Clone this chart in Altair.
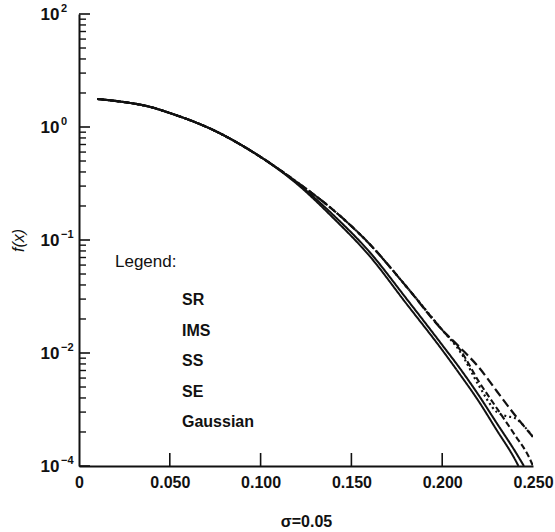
import altair as alt
import pandas as pd

# ---------------- data ----------------
series_names = ["SR", "IMS", "SS", "SE", "Gaussian"]

sr_x = [0.01, 0.025, 0.0375, 0.05, 0.075, 0.10, 0.12, 0.14, 0.16, 0.18, 0.20, 0.21, 0.22, 0.23, 0.24, 0.25]
sr_f = [1.77, 1.66, 1.53, 1.33, 0.922, 0.543, 0.3256, 0.1843, 0.0922, 0.0392, 0.0160, 0.0111, 0.00752, 0.00461, 0.00283, 0.00181]

ims_x = [0.01, 0.025, 0.0375, 0.05, 0.075, 0.10, 0.12, 0.14, 0.16, 0.18, 0.20, 0.21, 0.22, 0.23, 0.235, 0.24, 0.245, 0.25]
ims_f = [1.77, 1.66, 1.53, 1.33, 0.922, 0.543, 0.3256, 0.1843, 0.0922, 0.0392, 0.0160, 0.0102, 0.00521, 0.00301, 0.00277, 0.00266, 0.00226, 0.00181]

ss_x = [0.01, 0.025, 0.0375, 0.05, 0.075, 0.10, 0.12, 0.14, 0.16, 0.18, 0.20, 0.21, 0.22, 0.23, 0.24, 0.248, 0.25]
ss_f = [1.77, 1.66, 1.53, 1.33, 0.922, 0.543, 0.3256, 0.1843, 0.0922, 0.0392, 0.0160, 0.0106, 0.00565, 0.00326, 0.00188, 0.00118, 0.00100]

se_x = [0.01, 0.025, 0.0375, 0.05, 0.075, 0.10, 0.12, 0.14, 0.16, 0.18, 0.20, 0.21, 0.22, 0.23, 0.24, 0.245]
se_f = [1.77, 1.66, 1.53, 1.33, 0.922, 0.543, 0.3195, 0.1665, 0.0783, 0.0307, 0.01177, 0.00722, 0.00425, 0.00240, 0.00136, 0.00100]

gauss_x = [0.01, 0.025, 0.0375, 0.05, 0.075, 0.10, 0.12, 0.14, 0.16, 0.18, 0.20, 0.21, 0.22, 0.23, 0.24, 0.242]
gauss_f = [1.77, 1.66, 1.53, 1.33, 0.922, 0.543, 0.3137, 0.1566, 0.0722, 0.0277, 0.01063, 0.00639, 0.00376, 0.00208, 0.00115, 0.00100]

x_tick_values = [0, 0.05, 0.10, 0.15, 0.20, 0.25]
x_tick_labels = ["0", "0.050", "0.100", "0.150", "0.200", "0.250"]
x_inner_ticks = [0.05, 0.10, 0.15, 0.20]

y_tick_values = [10, 1, 0.1, 0.01, 0.001]
y_tick_base = "10"
y_tick_exponents = ["2", "0", "\u22121", "\u22122", "\u22124"]
y_minor_ticks = [k * d for d in (0.001, 0.01, 0.1, 1) for k in range(2, 10)]

legend_title = "Legend:"
legend_items = ["SR", "IMS", "SS", "SE", "Gaussian"]

# ---------------- build table ----------------
rows = []
for name, xs, fs in [("SR", sr_x, sr_f), ("IMS", ims_x, ims_f), ("SS", ss_x, ss_f),
                     ("SE", se_x, se_f), ("Gaussian", gauss_x, gauss_f)]:
    for xv, fv in zip(xs, fs):
        rows.append({"series": name, "x": xv, "f": fv})
df = pd.DataFrame(rows)

W, H = 454, 452
FONT = "Liberation Sans"
INK = "#111111"

xscale = alt.Scale(domain=[0, 0.25], nice=False, zero=False)
yscale = alt.Scale(type="log", domain=[0.001, 10], nice=False)


def label_expr(values, labels, tol):
    expr = "''"
    for v, l in zip(values, labels):
        t = tol * abs(v) if v != 0 else tol
        expr = f"abs(datum.value - {v}) < {t} ? '{l}' : " + expr
    return expr


xax = alt.Axis(title="σ=0.05", values=x_tick_values, labelExpr=label_expr(x_tick_values, x_tick_labels, 1e-4),
               ticks=False, grid=False, domainWidth=2, domainColor=INK, labelFont=FONT,
               labelFontSize=16, labelFontWeight="bold", labelColor=INK,
               labelPadding=8, labelFlush=False, titleFont=FONT, titleFontSize=16,
               titleFontWeight="bold", titleColor=INK, titlePadding=23)
yax = alt.Axis(title="f(x)", values=y_tick_values, labelExpr=f"'{y_tick_base}'",
               ticks=False, grid=False, domainWidth=2, domainColor=INK, labelFont=FONT,
               labelFontSize=17, labelFontWeight="bold", labelColor=INK,
               labelPadding=20, titleFont=FONT, titleFontSize=16,
               titleFontStyle="italic", titleFontWeight="normal", titleColor=INK,
               titleX=-53, titleY=H / 2)

lines = alt.Chart(df).mark_line(color=INK, interpolate="monotone", clip=True).encode(
    x=alt.X("x:Q", scale=xscale, axis=xax),
    y=alt.Y("f:Q", scale=yscale, axis=yax),
    strokeDash=alt.StrokeDash("series:N",
                              scale=alt.Scale(domain=series_names,
                                              range=[[9, 4], [2, 3], [6, 3], [1, 0], [1, 0]]),
                              legend=None),
    strokeWidth=alt.StrokeWidth("series:N",
                                scale=alt.Scale(domain=series_names,
                                                range=[2.2, 2.0, 2.6, 2.0, 2.8]),
                                legend=None),
    detail="series:N",
)

ymaj = alt.Chart(pd.DataFrame({"f": y_tick_values})).mark_rule(color=INK, strokeWidth=1.6).encode(
    y=alt.Y("f:Q", scale=yscale, axis=yax), x=alt.value(0), x2=alt.value(11))
ymin = alt.Chart(pd.DataFrame({"f": y_minor_ticks})).mark_rule(color=INK, strokeWidth=1.4).encode(
    y=alt.Y("f:Q", scale=yscale, axis=yax), x=alt.value(0), x2=alt.value(7))
xmaj = alt.Chart(pd.DataFrame({"x": x_inner_ticks})).mark_rule(color=INK, strokeWidth=1.6).encode(
    x=alt.X("x:Q", scale=xscale, axis=xax), y=alt.value(H), y2=alt.value(H - 13))

# superscript exponents of the y tick labels
yexp = alt.Chart(pd.DataFrame({"f": y_tick_values, "e": y_tick_exponents})).mark_text(
    font=FONT, fontSize=11, fontWeight="bold", color=INK, align="left", baseline="middle",
    dy=-5).encode(
    y=alt.Y("f:Q", scale=yscale, axis=yax), x=alt.value(-18), text="e:N")

# legend block (text only, as in the reference)
legend_layers = [
    alt.Chart(pd.DataFrame({"t": [legend_title]})).mark_text(
        font=FONT, fontSize=17, color=INK, align="left", baseline="middle").encode(
        text="t:N", x=alt.value(36), y=alt.value(248))
]
for i, item in enumerate(legend_items):
    legend_layers.append(
        alt.Chart(pd.DataFrame({"t": [item]})).mark_text(
            font=FONT, fontSize=16, fontWeight="bold", color=INK, align="left",
            baseline="middle").encode(
            text="t:N", x=alt.value(103), y=alt.value(286 + i * 30.5)))

chart = alt.layer(lines, ymaj, ymin, xmaj, yexp, *legend_layers).properties(
    width=W, height=H,
    autosize=alt.AutoSizeParams(type="none"),
    padding={"left": 79, "top": 14, "right": 22, "bottom": 66},
    background="white",
).configure_view(stroke=None)

chart.save("out.html", embed_options={"renderer": "svg", "actions": False})
